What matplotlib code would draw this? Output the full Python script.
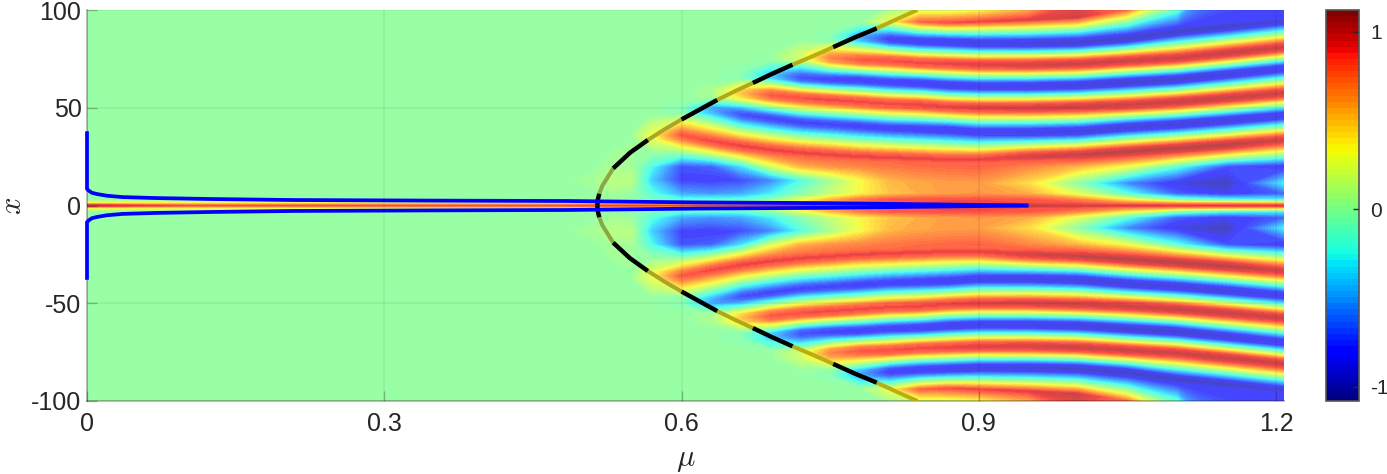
import matplotlib
matplotlib.use("Agg")
import matplotlib.pyplot as plt
from matplotlib.cm import ScalarMappable
from matplotlib.colors import ListedColormap, Normalize
import numpy as np

plt.rcParams["font.family"] = ["Liberation Sans", "DejaVu Sans"]
plt.rcParams["mathtext.fontset"] = "cm"
plt.rcParams["axes.unicode_minus"] = False

# columns of the field
mu = [0, .02, .1, .3, .48, .51, .53, .55, .57, .6, .63, .66, .69, .72, .75, .78, .81, .84, .87, .9, .95, 1.0, 1.05, 1.1, 1.15, 1.208]

# position of each stripe (crest/trough), upper half
x_r0 = [0] * 26
x_r1 = [1.2] * 26
x_r2 = [3] * 26
x_r3 = [6] * 26
x_o = [13] * 17 + [12.5, 12] + [11.5] * 7
x_o2 = [20] * 26
x_red4 = [36] * 10 + [33, 30.5, 28.5, 27, 26, 25, 24.5, 24, 23.5, 23.5, 25, 25.8, 27.5, 29.2, 31, 33.5]
x_blue3 = [49] * 11 + [46.5, 44.5, 42.5, 41.5, 40.5, 39.5, 39, 38.5, 37.5, 37.5, 38, 40, 41.5, 43.5, 46]
x_red3 = [57.5] * 12 + [56.5, 55, 54, 53, 52, 51.5, 50.5, 50, 50, 50.5, 51.5, 53, 55, 57.5]
x_blue2 = [66.7] * 13 + [65.5, 64.5, 64, 63, 62.5, 61.5, 61, 61, 61.5, 63, 64.5, 67, 70]
x_red2 = [76.5] * 14 + [75.5, 74.5, 74, 73, 72.5, 72, 72, 72.5, 74, 75.5, 78, 81]
x_blue1 = [86] * 16 + [85, 84, 83.5, 83, 83, 83.5, 85.5, 89, 91.5, 94.5]
x_red1 = [94] * 18 + [93.5, 94, 95, 96.5, 100, 110, 120, 130]
x_top = [102] * 21 + [104, 108, 118, 128, 138]

# field value along each of those rows
v_r0 = [1.1, 1.05, .85, .85, .85, .88, .9, .9, .9, .9, .95, .95, 1.0, 1.0, 1.05, 1.05, 1.05, 1.1, 1.1, 1.1, 1.0, .95, .95, .95, .95, .95]
v_r1 = [.35, .35, .35, .35, .35, .33, .3, .3, .2, .1, .1, .1, .2, .4, .6, .75, .85, .88, .9, .9, .88, .85, .7, .6, .55, .5]
v_r2 = [-.02] * 5 + [0, 0, 0, -.1, -.2, -.2, -.2, -.05, .25, .55, .75, .85, .88, .88, .88, .85, .7, .35, -.05, -.25, -.3]
v_r3 = [0] * 6 + [.05, 0, -.2, -.5, -.55, -.5, -.3, -.05, .15, .35, .5, .58, .62, .65, .58, .25, -.2, -.7, -.85, -.7]
v_o = [0] * 5 + [.05, .12, .12, -.4, -.8, -.82, -.78, -.6, -.25, .05, .33, .55, .6, .62, .62, .42, -.05, -.6, -.9, -1.0, -.3]
v_o2 = [0] * 6 + [.05, .05, -.25, -.75, -.7, -.35, .2, .55, .65, .7, .75, .78, .8, .82, .7, .55, .3, -.2, -.75, -.9]
v_red4 = [0] * 7 + [.02, .3, .85, .9, .92, .92, .92, .92, .92, .92, .92, .92, .92, .98, 1.02, 1.05, 1.05, 1.05, .98]
v_blue3 = [0] * 9 + [-.05, -.5, -.78, -.82, -.82, -.82, -.85, -.85, -.88, -.9, -.9, -.92, -.95, -.95, -.95, -.95, -.9]
v_red3 = [0] * 10 + [.05, .5, .85, .88, .9, .9, .9, .92, .92, .95, .98, 1.0, 1.0, 1.02, 1.02, 1.0]
v_blue2 = [0] * 11 + [-.05, -.4, -.78, -.82, -.85, -.85, -.88, -.9, -.9, -.92, -.95, -.98, -.98, -.95, -.9]
v_red2 = [0] * 13 + [.2, .7, .85, .88, .9, .92, .95, .98, 1.0, 1.0, 1.0, 1.02, 1.0]
v_blue1 = [0] * 14 + [-.03, -.5, -.85, -.88, -.9, -.92, -.95, -.98, -1, -1, -1, -.95]
v_red1 = [0] * 16 + [.3, .8, .88, .9, .95, 1.0, .75, .6, -.5, -.6]
v_top = [0] * 19 + [.1, .4, .85, .7, .7, -.3, -.4]

# parabola-like boundary (black / olive pieces)
env_mu = [.515, .5155, .517, .52, .531, .548, .566, .583, .600, .636, .654, .672, .692, .712, .733, .753, .775, .797, .818, .838]
env_x = [0, 3, 6, 10, 19, 27, 33.5, 39, 44, 54, 58.5, 62.7, 67.5, 72, 76.5, 81, 86, 90.6, 95.5, 100]
black_parts = [(.515, .517), (.531, .566), (.600, .636), (.672, .712), (.753, .797)]
olive_parts = [(.517, .531), (.566, .600), (.636, .672), (.712, .753), (.797, .838)]
olive_cols = ["#86a845", "#a8a52a", "#b0a818", "#b8ae10", "#b8ae10"]

# blue curve
blue_mu = [0, 0, .002, .005, .0097, .02, .036, .07, .127, .208, .35, .484, .611, .745, .883, .95]
blue_x = [38, 8.5, 7.5, 6.5, 5.9, 5, 4.3, 3.8, 3.3, 2.8, 2.5, 2.3, 1.6, 1.2, .4, 0]

xticks = [0, .3, .6, .9, 1.2]
xticklabels = ["0", "0.3", "0.6", "0.9", "1.2"]
yticks = [-100, -50, 0, 50, 100]
cticks = [-1, 0, 1]
clim = (-1.08, 1.124)

# stripes are not pointy: each one gets a shoulder row on both sides of its crest
rows_x = [x_r0, x_r1, x_r2, x_r3, x_o, x_o2]
rows_v = [v_r0, v_r1, v_r2, v_r3, v_o, v_o2]
for xs, vs in [(x_red4, v_red4), (x_blue3, v_blue3), (x_red3, v_red3), (x_blue2, v_blue2), (x_red2, v_red2), (x_blue1, v_blue1)]:
    rows_x += [np.array(xs) - 2, xs, np.array(xs) + 2]
    rows_v += [.85 * np.array(vs), vs, .85 * np.array(vs)]
rows_x += [x_red1, x_top]
rows_v += [v_red1, v_top]
rows_x = np.array(rows_x, dtype=float)
rows_v = np.array(rows_v, dtype=float)

X = np.vstack([-rows_x[:0:-1], rows_x])
V = np.vstack([rows_v[:0:-1], rows_v])
M = np.tile(np.array(mu), (X.shape[0], 1))

jet = plt.get_cmap("jet")(np.linspace(0, 1, 64))
washed = jet.copy()
washed[:, :3] = .73 * jet[:, :3] + .27  # image is semi transparent over white
levels = np.linspace(clim[0], clim[1], 65)

W, H = 1387, 474
fig = plt.figure(figsize=(W / 100, H / 100), dpi=100)
ax = fig.add_axes([87 / W, 1 - 401 / H, (1284 - 87) / W, 391 / H])
ink = "#262626"
faint = (.15, .15, .15, .3)

ax.contourf(M, X, V, levels=levels, colors=[tuple(c) for c in washed], extend="both", antialiased=False, zorder=1)

ax.set_xlim(0, 1.208)
ax.set_ylim(-100, 100)
ax.set_xticks(xticks, xticklabels)
ax.set_yticks(yticks)
ax.set_axisbelow(False)
ax.grid(True, color="black", alpha=.06, lw=1.2)
ax.tick_params(direction="in", length=7, width=1, color=faint, labelcolor=ink, labelsize=18)
ax.tick_params(axis="x", pad=8)
ax.tick_params(axis="y", pad=4)
for s in ax.spines.values():
    s.set_color(faint)
    s.set_linewidth(1.4)
ax.spines["top"].set_visible(False)
ax.spines["right"].set_visible(False)

for sign in [1, -1]:
    for (a, b), c in zip(olive_parts, olive_cols):
        m = [p for p in env_mu if a <= p <= b]
        xx = [sign * q for p, q in zip(env_mu, env_x) if a <= p <= b]
        ax.plot(m, xx, color=c, lw=2.9, solid_capstyle="butt", zorder=3)
    for a, b in black_parts:
        m = [p for p in env_mu if a <= p <= b]
        xx = [sign * q for p, q in zip(env_mu, env_x) if a <= p <= b]
        ax.plot(m, xx, color="black", lw=3.2, solid_capstyle="butt", zorder=4, clip_on=False)
    ax.plot(blue_mu, [sign * q for q in blue_x], color="#0000ff", lw=2.7, solid_capstyle="butt", zorder=5, clip_on=False)

ax.set_xlabel(r"$\mu$", fontsize=22, color=ink, labelpad=6)
ax.set_ylabel(r"$x$", fontsize=22, color=ink, labelpad=2)

cax = fig.add_axes([1326 / W, 1 - 401 / H, 33 / W, 391 / H])
sm = ScalarMappable(norm=Normalize(*clim), cmap=ListedColormap(jet))
cb = fig.colorbar(sm, cax=cax, ticks=cticks)
cax.tick_params(direction="in", length=4, width=1, color=ink, labelcolor=ink, labelsize=15, pad=8)
cb.outline.set_edgecolor("#555555")
cb.outline.set_linewidth(1.2)

fig.savefig("out.png", dpi=100)
